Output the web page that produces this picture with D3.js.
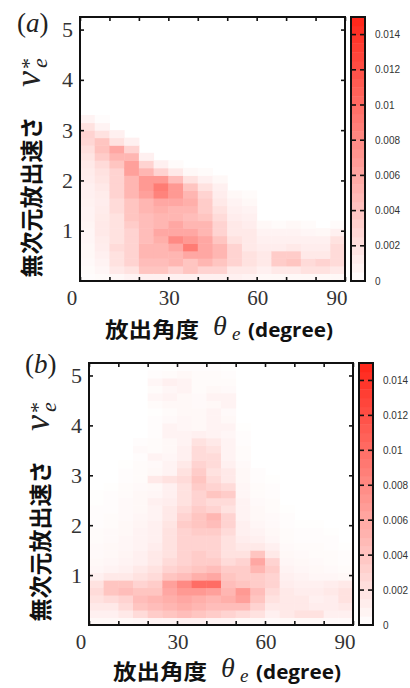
<!DOCTYPE html>
<html><head><meta charset="utf-8">
<script src="https://cdn.jsdelivr.net/npm/d3@7"></script>
<style>body{margin:0;background:#fff}</style>
</head><body>
<svg id="c" width="410" height="688" xmlns="http://www.w3.org/2000/svg"></svg>
<script>
// ---------- data ----------
const thetaEdges = [0,5,10,15,20,25,30,35,40,45,50,55,60,65,70,75,80,85,90];
const speedEdges = [0,0.15,0.3,0.45,0.6,0.75,0.9,1.05,1.2,1.35,1.5,1.65,1.8,1.95,2.1,2.25,2.4,2.55,2.7,2.85,3.0,3.15,3.3,3.45,3.6,3.75,3.9,4.05,4.2,4.35,4.5,4.65,4.8,4.95,5.1,5.25];
const xTicks = [0,10,20,30,40,50,60,70,80,90];
const xTickLabels = [0,30,60,90];
const yTicks = [1,2,3,4,5];
const cbTicks = [0,0.002,0.004,0.006,0.008,0.01,0.012,0.014];
const cbTickLabels = ["0","0.002","0.004","0.006","0.008","0.01","0.012","0.014"];
const unit = 0.001; // density values below are in units of 0.001
// panel (a): one array per 5-degree column, speed bins from bottom up
const densityA = [
  [0.2,0.3,0.4,0.5,0.5,0.6,0.6,0.7,0.8,0.8,0.9,1.0,1.0,1.2,1.3,1.5,1.8,2.2,2.8,3.0,2.0,0.8],
  [0.3,0.6,0.8,1.0,1.2,1.3,1.5,1.5,1.4,1.3,1.2,1.3,1.5,1.8,2.0,2.5,3.5,4.2,4.0,2.0,0.8,0.2],
  [0.5,1.5,2.0,2.0,2.5,2.0,2.0,2.0,2.0,2.5,2.5,3.0,3.0,3.0,3.0,4.0,5.0,6.0,2.0,1.0],
  [0.8,2.0,3.0,3.0,3.0,3.0,3.0,3.5,4.0,4.0,4.0,5.0,5.0,5.0,6.5,6.5,5.0,3.0,1.0],
  [1.0,4.0,4.5,5.0,5.0,4.5,4.5,4.5,4.5,5.0,5.0,6.5,7.0,7.0,5.0,3.0,1.0],
  [1.0,4.0,4.5,5.0,5.0,5.5,6.0,5.0,5.0,5.5,6.0,8.5,9.0,7.0,3.0,1.0],
  [1.0,3.0,5.0,5.0,6.0,8.0,6.0,6.0,5.0,5.0,6.0,7.0,7.0,4.5,1.5,0.3],
  [1.0,4.0,4.0,6.0,9.0,7.0,6.0,5.0,4.5,5.0,5.5,5.0,4.0,2.0,0.5],
  [1.0,3.0,5.0,6.0,6.0,6.0,5.0,5.0,4.0,3.5,3.5,3.0,2.0,1.0,0.3],
  [1.0,3.0,4.0,5.0,5.0,4.0,3.0,3.0,2.5,2.0,1.5,1.2,1.0,0.5],
  [1.0,1.5,3.0,3.0,3.0,2.0,1.5,1.5,1.2,1.0,0.8,0.5],
  [0.8,1.5,2.0,2.0,1.5,1.5,1.5,1.2,1.0,0.8,0.5,0.3],
  [0.5,1.0,1.5,1.5,1.2,1.0,0.8,0.5],
  [0.5,1.5,3.5,3.5,1.2,1.0,0.8,0.3],
  [0.5,1.5,4.0,3.5,1.5,1.0,0.8,0.5],
  [0.5,2.0,2.5,1.5,1.2,1.0,0.6,0.3],
  [0.5,2.0,3.0,1.5,1.2,1.0,0.5],
  [0.5,1.5,2.5,2.5,2.5,2.0,1.0,0.3]
];
// panel (b)
const densityB = [
  [0.5,1.0,1.5,2.0,2.5,2.0,1.0,0.6,0.5,0.4,0.4,0.3,0.3,0.2,0.2,0.2,0.1,0.1],
  [0.5,1.0,1.5,2.5,4.0,4.0,1.5,0.8,0.6,0.5,0.5,0.4,0.4,0.3,0.3,0.2,0.2,0.2,0.1],
  [0.5,1.5,2.5,3.0,4.5,4.0,1.5,1.0,0.8,0.7,0.6,0.6,0.5,0.5,0.4,0.4,0.4,0.3,0.3,0.2,0.2,0.1],
  [0.6,2.5,4.0,4.5,4.0,3.0,2.0,1.5,1.0,1.0,0.8,0.8,0.8,0.7,0.6,0.5,0.5,0.5,0.4,0.3,0.3,0.3,0.2,0.4,0.2],
  [0.8,3.5,4.5,5.0,4.0,3.5,2.5,2.0,1.5,1.5,1.2,1.0,1.0,1.0,0.8,0.8,1.0,0.6,0.5,1.5,0.5,0.4,0.8,0.3,0.3,0.2,0.2,0.2,0.1,0.3,0.6,0.3,0.6,0.2],
  [0.8,4.0,5.0,5.5,6.0,6.5,4.0,3.0,2.5,2.0,2.0,2.0,2.0,1.8,1.5,1.5,1.2,1.0,1.0,2.0,0.8,0.8,0.6,0.5,0.5,0.8,0.8,0.4,0.3,0.5,0.8,0.6,1.0,0.3,0.1],
  [1.0,4.5,5.5,6.0,7.0,8.0,4.5,3.5,3.0,3.0,3.0,3.0,3.0,3.5,3.0,2.5,2.0,2.0,2.0,2.5,2.0,1.5,1.0,1.0,0.8,0.8,0.6,0.6,0.5,0.5,0.5,0.8,0.8,0.5,0.2],
  [1.0,4.0,5.0,5.5,7.0,10.0,5.5,4.0,3.5,3.5,3.0,3.0,3.5,4.0,4.0,3.5,3.0,3.0,3.5,4.0,3.5,3.0,2.5,2.5,2.0,1.0,0.5,0.5,0.5,0.4,0.4,0.3,0.3,0.3,0.2],
  [0.8,3.5,4.5,5.0,6.5,10.0,6.0,4.5,3.5,3.0,3.0,3.0,3.5,4.5,5.0,3.0,2.5,4.0,3.0,2.5,2.0,2.5,2.5,2.0,1.5,0.8,0.8,0.8,0.8,0.5,0.8,0.5,0.3,0.3,0.2],
  [0.8,3.0,4.5,5.5,5.0,4.5,4.0,3.5,2.5,2.0,2.0,2.0,2.5,3.0,3.0,2.0,2.5,3.5,2.5,1.5,1.5,1.0,0.8,0.8,0.8,0.6,0.8,0.5,0.4,0.8,0.8,0.4,0.3,0.2,0.1],
  [0.5,2.5,4.5,6.5,7.0,4.0,3.5,3.5,3.0,2.0,1.5,1.2,1.0,1.0,0.8,0.8,0.8,0.6,0.6,0.5,0.5,0.4,0.3,0.3,0.2,0.2,0.1],
  [0.5,2.0,3.0,4.0,4.5,3.5,3.5,5.0,6.0,4.0,1.5,1.0,0.8,0.6,0.5,0.5,0.4,0.3,0.3,0.2,0.2],
  [0.4,1.0,1.5,2.0,2.5,3.0,3.0,3.5,3.0,1.5,1.0,0.6,0.5,0.4,0.4,0.3,0.3,0.2,0.2,0.1],
  [0.5,1.5,1.5,1.5,1.5,1.2,1.0,0.8,0.6,0.5,0.4,0.3,0.3,0.2,0.2,0.1],
  [0.5,2.0,1.5,1.5,1.2,1.0,0.8,0.6,0.5,0.4,0.3,0.2,0.2,0.1],
  [0.5,2.0,1.2,1.0,1.2,1.0,0.6,0.5,0.4,0.3,0.3,0.2,0.2,0.1],
  [0.4,1.0,1.2,1.2,1.5,1.2,0.6,0.4,0.3,0.3,0.2,0.2,0.1],
  [0.4,1.0,1.5,2.0,2.0,1.5,0.5,0.3,0.2,0.2,0.1]
];

// ---------- drawing ----------
const svg = d3.select("#c");
const color = d3.scaleLinear().domain([0, 0.015]).range(["#ffffff", "#ff2418"]).clamp(true);
const SERIF = "'Liberation Serif','Times New Roman',serif";
const CJK = "'Noto Sans CJK JP','Noto Sans CJK SC',sans-serif";

function drawPanel(cfg, density) {
  const g = svg.append("g");
  const x = d3.scaleLinear().domain([0, 90]).range([cfg.L, cfg.R]);
  const y = d3.scaleLinear().domain([0, 5.25]).range([cfg.B, cfg.T]);
  const cells = [];
  density.forEach((col, i) => col.forEach((v, j) => { if (v > 0) cells.push({i, j, v: v * unit}); }));
  g.append("g").selectAll("rect").data(cells).join("rect")
    .attr("x", d => x(thetaEdges[d.i]))
    .attr("width", d => x(thetaEdges[d.i + 1]) - x(thetaEdges[d.i]) + 0.5)
    .attr("y", d => y(speedEdges[d.j + 1]))
    .attr("height", d => y(speedEdges[d.j]) - y(speedEdges[d.j + 1]) + 0.5)
    .attr("fill", d => color(d.v));

  // inward ticks on all four sides
  const tk = (sel) => { sel.select(".domain").remove(); sel.selectAll("line").attr("stroke", "#111").attr("stroke-width", 1.6); };
  g.append("g").attr("transform", `translate(0,${cfg.B})`).call(d3.axisBottom(x).tickValues(xTicks).tickSize(-4).tickFormat("")).call(tk);
  g.append("g").attr("transform", `translate(0,${cfg.T})`).call(d3.axisTop(x).tickValues(xTicks).tickSize(-4).tickFormat("")).call(tk);
  g.append("g").attr("transform", `translate(${cfg.L},0)`).call(d3.axisLeft(y).tickValues(yTicks).tickSize(-4).tickFormat("")).call(tk);
  g.append("g").attr("transform", `translate(${cfg.R},0)`).call(d3.axisRight(y).tickValues(yTicks).tickSize(-4).tickFormat("")).call(tk);

  g.append("rect").attr("x", cfg.L).attr("y", cfg.T).attr("width", cfg.R - cfg.L).attr("height", cfg.B - cfg.T)
    .attr("fill", "none").attr("stroke", "#111").attr("stroke-width", 2);

  // tick labels
  g.selectAll("text.xl").data(xTickLabels).join("text")
    .attr("x", d => x(d) + (d === 0 || d === 90 ? -8 : 1))
    .attr("y", cfg.B + 24).attr("text-anchor", "middle")
    .attr("font-family", SERIF).attr("font-size", 21).attr("fill", "#333").text(d => d);
  g.selectAll("text.yl").data(yTicks).join("text")
    .attr("x", cfg.L - 7).attr("y", d => y(d) + 7.5).attr("text-anchor", "end")
    .attr("font-family", SERIF).attr("font-size", 22).attr("fill", "#333").text(d => d);

  // colorbar
  const cy = d3.scaleLinear().domain([0, 0.015]).range([cfg.B, cfg.T]);
  const steps = d3.range(0, 0.015, 0.0005);
  g.append("g").selectAll("rect").data(steps).join("rect")
    .attr("x", cfg.cbL).attr("width", cfg.cbR - cfg.cbL)
    .attr("y", d => cy(d + 0.0005)).attr("height", d => cy(d) - cy(d + 0.0005) + 0.4)
    .attr("fill", d => color(d + 0.00025));
  const tkc = g.append("g");
  cbTicks.slice(1).forEach(v => {
    tkc.append("line").attr("x1", cfg.cbL).attr("x2", cfg.cbL + 5).attr("y1", cy(v)).attr("y2", cy(v)).attr("stroke", "#111").attr("stroke-width", 1.6);
    tkc.append("line").attr("x1", cfg.cbR - 5).attr("x2", cfg.cbR).attr("y1", cy(v)).attr("y2", cy(v)).attr("stroke", "#111").attr("stroke-width", 1.6);
  });
  g.append("rect").attr("x", cfg.cbL).attr("y", cfg.T).attr("width", cfg.cbR - cfg.cbL).attr("height", cfg.B - cfg.T)
    .attr("fill", "none").attr("stroke", "#111").attr("stroke-width", 2);
  g.selectAll("text.cl").data(cbTicks).join("text")
    .attr("x", cfg.cbLabelX).attr("y", (d, i) => cy(d) + 3.5)
    .attr("font-family", "'Liberation Sans',Arial,sans-serif").attr("font-size", 10).attr("fill", "#333")
    .text((d, i) => cbTickLabels[i]);

  // panel letter
  const pl = g.append("text").attr("x", cfg.letterX).attr("y", cfg.letterY).attr("font-family", SERIF).attr("font-size", 27).attr("fill", "#222");
  pl.append("tspan").text("(");
  pl.append("tspan").attr("font-style", "italic").text(cfg.letter);
  pl.append("tspan").text(")");

  // y label: v_e^*
  const ox = cfg.ylOffX, oy = cfg.ylOffY;
  g.append("text").attr("transform", `translate(${40 + ox},${87 + oy}) rotate(-90)`)
    .attr("font-family", SERIF).attr("font-style", "italic").attr("font-size", 36).attr("fill", "#222").text("v");
  g.append("text").attr("transform", `translate(${47 + ox},${68 + oy}) rotate(-90)`)
    .attr("font-family", SERIF).attr("font-style", "italic").attr("font-size", 22).attr("fill", "#222").text("e");
  g.append("text").attr("transform", `translate(${36 + ox},${69 + oy}) rotate(-90)`)
    .attr("font-family", SERIF).attr("font-size", 22).attr("fill", "#222").text("*");
  g.append("text").attr("transform", `translate(${30 + ox},${197 + oy}) rotate(-90)`)
    .attr("text-anchor", "middle").attr("dominant-baseline", "central")
    .attr("font-family", CJK).attr("font-weight", 700).attr("font-size", 23).attr("fill", "#111").text("無次元放出速さ");

  // x label
  g.append("text").attr("x", cfg.xlX).attr("y", cfg.xlY).attr("font-family", CJK).attr("font-weight", 700)
    .attr("font-size", 21).attr("textLength", 94).attr("lengthAdjust", "spacingAndGlyphs").attr("fill", "#111").text("放出角度");
  g.append("text").attr("x", cfg.xlX + 108).attr("y", cfg.xlY - 2).attr("font-family", SERIF).attr("font-style", "italic")
    .attr("font-size", 28).attr("fill", "#222").text("θ");
  g.append("text").attr("x", cfg.xlX + 127).attr("y", cfg.xlY + 3).attr("font-family", SERIF).attr("font-style", "italic")
    .attr("font-size", 19).attr("fill", "#222").text("e");
  g.append("text").attr("x", cfg.xlX + 143).attr("y", cfg.xlY).attr("font-family", "'Open Sans',sans-serif").attr("font-weight", 700)
    .attr("font-size", 19).attr("textLength", 85).attr("lengthAdjust", "spacingAndGlyphs").attr("fill", "#111").text("(degree)");
}

drawPanel({L: 80, R: 345, T: 17, B: 281, cbL: 351, cbR: 365, cbLabelX: 375,
  letter: "a", letterX: 17, letterY: 32, ylOffX: 0, ylOffY: 0, xlX: 105, xlY: 337}, densityA);
drawPanel({L: 89, R: 353, T: 363, B: 625, cbL: 359, cbR: 373, cbLabelX: 383,
  letter: "b", letterX: 25, letterY: 373, ylOffX: 9, ylOffY: 344, xlX: 113, xlY: 679}, densityB);
</script>
</body></html>
